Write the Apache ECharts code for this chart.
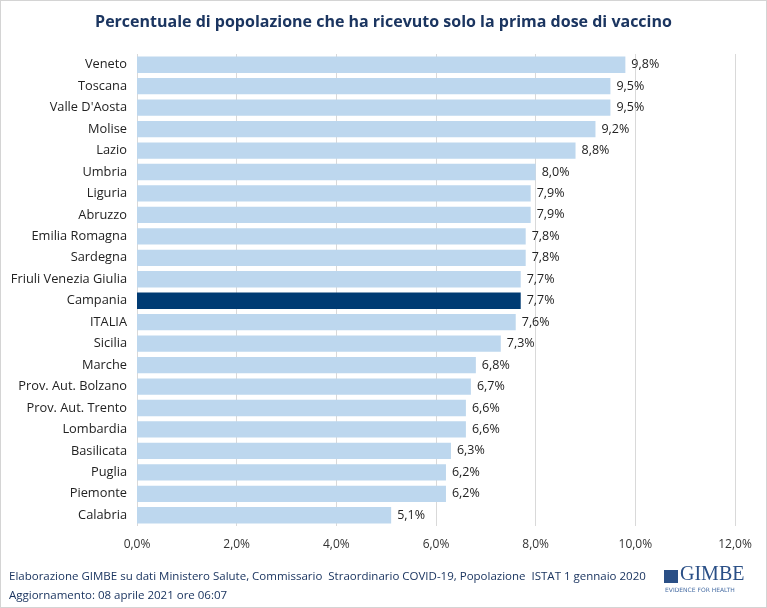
<!DOCTYPE html>
<html lang="it">
<head>
  <meta charset="utf-8">
</head>
<body style="margin: 0; background: #fff">
  <div id="container" style="width: 767px; height: 608px; box-sizing: border-box; border: 1px solid #d4d4d4"></div>

  <script type="text/javascript" src="https://cdn.jsdelivr.net/npm/echarts@6/dist/echarts.min.js"></script>

  <script type="text/javascript">
    // data
    var regions = ['Veneto', 'Toscana', "Valle D'Aosta", 'Molise', 'Lazio', 'Umbria', 'Liguria', 'Abruzzo',
      'Emilia Romagna', 'Sardegna', 'Friuli Venezia Giulia', 'Campania', 'ITALIA', 'Sicilia', 'Marche',
      'Prov. Aut. Bolzano', 'Prov. Aut. Trento', 'Lombardia', 'Basilicata', 'Puglia', 'Piemonte', 'Calabria'];
    var firstDose = [9.8, 9.5, 9.5, 9.2, 8.8, 8.0, 7.9, 7.9, 7.8, 7.8, 7.7, 7.7, 7.6, 7.3, 6.8, 6.7, 6.6, 6.6,
      6.3, 6.2, 6.2, 5.1];
    var highlight = 'Campania';

    var font = 'Open Sans';
    var fmt = function (v) { return v.toFixed(1).replace('.', ',') + '%'; };

    var dom = document.getElementById('container');
    var myChart = echarts.init(dom, null, { renderer: 'canvas' });

    var option = {
      animation: false,
      textStyle: { fontFamily: font },
      title: {
        text: 'Percentuale di popolazione che ha ricevuto solo la prima dose di vaccino',
        left: 'center',
        top: 8,
        textStyle: { color: '#1b3560', fontSize: 16, fontWeight: 'bold', fontFamily: font }
      },
      grid: { left: 136, right: 31, top: 53, bottom: 81, containLabel: false },
      xAxis: {
        type: 'value',
        min: 0,
        max: 12,
        interval: 2,
        axisLine: { show: false },
        axisTick: { show: false },
        splitLine: { lineStyle: { color: '#d9d9d9' } },
        axisLabel: { color: '#333', fontSize: 12, margin: 13, formatter: function (v) { return fmt(v); } }
      },
      yAxis: {
        type: 'category',
        inverse: true,
        data: regions,
        axisLine: { show: false },
        axisTick: { show: false },
        axisLabel: { color: '#222', fontSize: 12.8, margin: 10 }
      },
      series: [{
        type: 'bar',
        barCategoryGap: '24%',
        data: firstDose.map(function (v, i) {
          return {
            value: v,
            itemStyle: { color: regions[i] === highlight ? '#003b73' : '#bdd7ee' }
          };
        }),
        label: {
          show: true,
          position: 'right',
          distance: 6,
          color: '#222',
          fontSize: 12.5,
          formatter: function (p) { return fmt(p.value); }
        }
      }],
      graphic: [
        {
          type: 'text', left: 8, top: 570,
          style: {
            text: 'Elaborazione GIMBE su dati Ministero Salute, Commissario  Straordinario COVID-19, Popolazione  ISTAT 1 gennaio 2020',
            fill: '#1b3560', font: '11.5px "Open Sans"'
          }
        },
        {
          type: 'text', left: 8, top: 589,
          style: { text: 'Aggiornamento: 08 aprile 2021 ore 06:07', fill: '#1b3560', font: '11.5px "Open Sans"' }
        },
        { type: 'rect', left: 663, top: 569, shape: { width: 14, height: 13 }, style: { fill: '#2a4f86' } },
        {
          type: 'text', left: 679, top: 564,
          style: { text: 'GIMBE', fill: '#2a4f86', font: '20px "Liberation Serif"' }
        },
        {
          type: 'text', left: 664, top: 586,
          style: { text: 'EVIDENCE FOR HEALTH', fill: '#4a6fa5', font: '6px "DejaVu Sans"' }
        }
      ]
    };

    myChart.setOption(option);
    window.addEventListener('resize', myChart.resize);
  </script>
</body>
</html>
